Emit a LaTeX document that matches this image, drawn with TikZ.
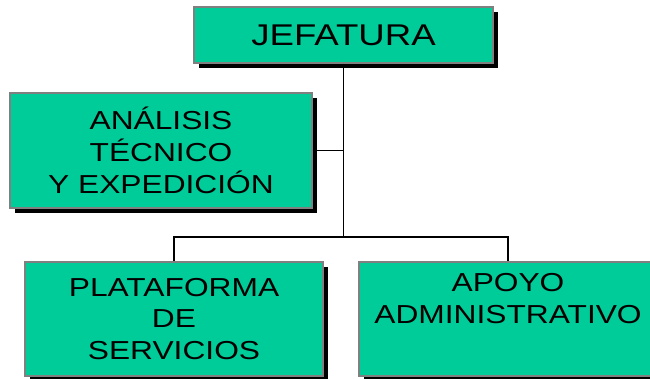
\documentclass[tikz,border=0pt]{standalone}
\usepackage{fontspec}
\setmainfont{Liberation Sans}[FakeStretch=1.22]
\usetikzlibrary{shadows}
\definecolor{boxteal}{HTML}{00CC99}
\definecolor{boxedge}{HTML}{808080}
\tikzset{
  unitbox/.style={draw=boxedge, line width=1.3pt, fill=boxteal, inner sep=0pt,
    align=center, text=black,
    font=\fontsize{26}{31.7}\selectfont,
    drop shadow={shadow xshift=5pt, shadow yshift=-5pt, fill=black, opacity=1}},
  link/.style={draw=black, line width=1.6pt}
}
\begin{document}
\begin{tikzpicture}[x=1pt,y=-1pt]
\useasboundingbox (0,0) rectangle (650,378);
\node[unitbox, minimum width=299pt, minimum height=56pt,
  font=\fontsize{30}{36}\selectfont] (jef) at (343.5,35) {JEFATURA};
\node[unitbox, minimum width=302pt, minimum height=115pt] (ana) at (161,150.5)
  {ANÁLISIS\\TÉCNICO\\Y EXPEDICIÓN};
\node[unitbox, minimum width=298pt, minimum height=114pt] (plat) at (174,319)
  {PLATAFORMA\\DE\\SERVICIOS};
\node[unitbox, minimum width=298pt, minimum height=114pt] (apo) at (508,319)
  {APOYO\\ADMINISTRATIVO\\\strut};
\coordinate (bus) at (343.5,237);
\draw[link] (jef.south) -- (bus);
\draw[link] (ana.east) -- (ana.east -| bus);
\draw[link] (plat.north) |- (bus) -| (apo.north);
\end{tikzpicture}
\end{document}
